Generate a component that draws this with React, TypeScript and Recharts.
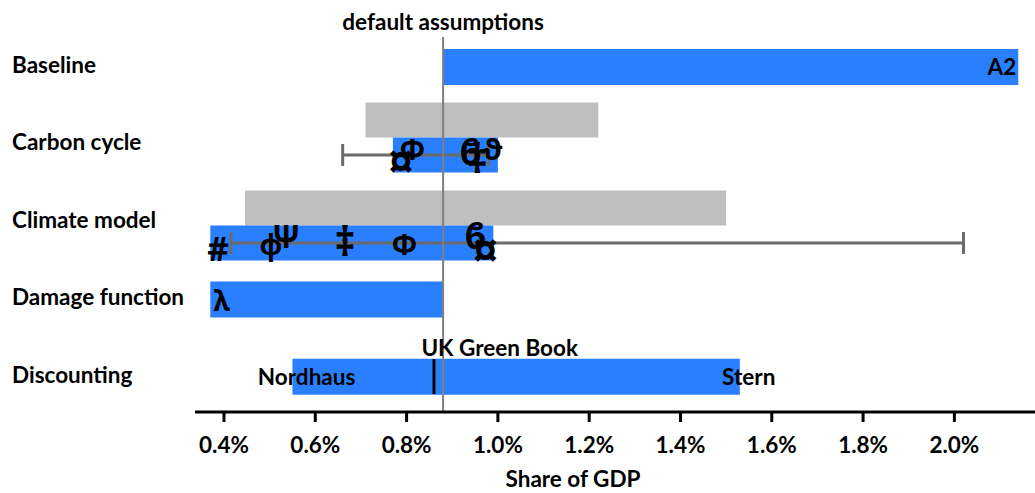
import React from 'react';
import {
    ComposedChart,
    Bar,
    XAxis,
    YAxis,
    ReferenceLine,
    ReferenceDot,
    ErrorBar,
    Label,
} from 'recharts';

// ─────────────────────────────────────────────────────────────────────────────
// Data (share of GDP, %)
// ─────────────────────────────────────────────────────────────────────────────

const categories = ['Baseline', 'Carbon cycle', 'Climate model', 'Damage function', 'Discounting'];

// grey range, upper bar of a row
const greyLow = [null, 0.71, 0.446, null, null];
const greyHigh = [null, 1.22, 1.5, null, null];
// blue range drawn under the grey one
const pairLow = [null, 0.77, 0.37, null, null];
const pairHigh = [null, 1.0, 0.99, null, null];
// blue range alone in its row
const soloLow = [0.88, null, null, 0.37, 0.55];
const soloHigh = [2.14, null, null, 0.88, 1.53];
// whiskers over the blue pair bars
const whiskerLow = [null, 0.66, 0.415, null, null];
const whiskerHigh = [null, 0.98, 2.02, null, null];

const xTicks = [0.4, 0.6, 0.8, 1.0, 1.2, 1.4, 1.6, 1.8, 2.0];
const xDomain = [0.3365, 2.1766];
const defaultAssumption = 0.88;
const greenBook = 0.86;

// scenario markers
const markerRows = [
    'Carbon cycle', 'Carbon cycle', 'Carbon cycle', 'Carbon cycle', 'Carbon cycle',
    'Climate model', 'Climate model', 'Climate model', 'Climate model', 'Climate model', 'Climate model', 'Climate model',
    'Damage function',
];
const markerValues = [0.788, 0.813, 0.939, 0.955, 0.989, 0.387, 0.503, 0.536, 0.665, 0.795, 0.95, 0.973, 0.395];
const markerSymbols = ['¤', 'Φ', 'ϐ', '‡', 'ϑ', '#', 'φ', 'Ψ', '‡', 'Φ', 'ϐ', '¤', 'λ'];

// text at bar ends
const endRows = ['Baseline', 'Discounting', 'Discounting'];
const endValues = [soloHigh[0], soloLow[4], soloHigh[4]];
const endTexts = ['A2', 'Nordhaus', 'Stern'];

// ─────────────────────────────────────────────────────────────────────────────
// Styling
// ─────────────────────────────────────────────────────────────────────────────

const W = 1035;
const H = 493;
const BAR = 35;
const BLUE = '#2a7fff';
const GREY = '#bfbfbf';
const FONT = "Lato, 'Noto Sans', sans-serif";
const GLYPH_FONT = "'Noto Sans', 'DejaVu Sans', sans-serif";
const GLYPH_SIZE = 28;
// rows with one bar and rows with a grey/blue pair sit on their own bands
const SOLO_PAD = { top: -9, bottom: -3.3 };
const PAIR_PAD = { top: -31.5, bottom: -33.5 };

// where each glyph's visual middle should sit, px from the bar middle
const markerShift = [8.5, -5.5, -2.5, 7, -5.5, 5.5, 7.5, -7, 2.5, 1.5, -6.5, 9.5, 1.5];
// glyph middle above the baseline (em) and relative size
const glyphMid: Record<string, number> = { '‡': 0.27, 'φ': 0.16, '¤': 0.33 };
const glyphScale: Record<string, number> = { '¤': 1.7, '‡': 1.45, '#': 1.2, 'ϐ': 1.25, 'Ψ': 1.15 };
const endAnchor = ['end', 'start', 'end'];
const endDx = [-2, -34.6, 35.5];

const textStyle = { fill: '#000', fontSize: 22.5, fontWeight: 700, fontFamily: FONT };

const hasGrey = (row: string) => greyLow[categories.indexOf(row)] != null;

const CategoryTick = ({ y, payload }: any) => (
    <text x={12} y={y + 6} {...textStyle}>{payload.value}</text>
);

export default function App() {
    const data = categories.map((name, i) => ({
        name,
        grey: greyLow[i] == null ? null : [greyLow[i], greyHigh[i]],
        pair: pairLow[i] == null ? null : [pairLow[i], pairHigh[i]],
        solo: soloLow[i] == null ? null : [soloLow[i], soloHigh[i]],
        err: whiskerLow[i] == null ? null : [
            (pairHigh[i] as number) - (whiskerLow[i] as number),
            (whiskerHigh[i] as number) - (pairHigh[i] as number),
        ],
    }));

    return (
        <div style={{ position: 'absolute', left: 0, top: 0, width: W, height: H, background: '#fff' }}>
            <ComposedChart
                width={W}
                height={H}
                data={data}
                layout="vertical"
                barGap={0}
                margin={{ top: 37, right: 0, bottom: 0, left: 0 }}
            >
                <XAxis
                    type="number"
                    domain={xDomain}
                    ticks={xTicks}
                    allowDataOverflow
                    height={81}
                    axisLine={{ stroke: '#000', strokeWidth: 3 }}
                    tickLine={{ stroke: '#000', strokeWidth: 3 }}
                    tickSize={10}
                    tickMargin={15}
                    tick={textStyle}
                    tickFormatter={(v: number) => `${v.toFixed(1)}%`}
                >
                    <Label value="Share of GDP" position="insideBottom" offset={6} dx={-42} style={textStyle} />
                </XAxis>
                <YAxis
                    yAxisId="solo"
                    type="category"
                    dataKey="name"
                    width={195}
                    axisLine={false}
                    tickLine={false}
                    tick={CategoryTick}
                    padding={SOLO_PAD}
                    allowDuplicatedCategory={false}
                />
                <YAxis
                    yAxisId="pair"
                    type="category"
                    dataKey="name"
                    hide
                    padding={PAIR_PAD}
                    allowDuplicatedCategory={false}
                />

                <Bar yAxisId="pair" dataKey="grey" fill={GREY} barSize={BAR} isAnimationActive={false} />
                <Bar yAxisId="pair" dataKey="pair" fill={BLUE} barSize={BAR} isAnimationActive={false}>
                    <ErrorBar dataKey="err" direction="x" width={11} stroke="#6b6b6b" strokeWidth={3} />
                </Bar>
                <Bar yAxisId="solo" dataKey="solo" fill={BLUE} barSize={BAR + 1} isAnimationActive={false} />

                <ReferenceLine
                    yAxisId="solo"
                    x={defaultAssumption}
                    stroke="#808080"
                    strokeWidth={2}
                    label={{ value: 'default assumptions', position: 'top', offset: 7, ...textStyle }}
                />

                <ReferenceDot
                    yAxisId="solo"
                    x={greenBook}
                    y="Discounting"
                    r={0}
                    ifOverflow="visible"
                    shape={(p: any) => (
                        <g>
                            <line x1={p.cx} x2={p.cx} y1={p.cy - BAR / 2} y2={p.cy + BAR / 2} stroke="#000" strokeWidth={3} />
                            <text x={p.cx - 12.6} y={p.cy - BAR / 2 - 3} {...textStyle}>UK Green Book</text>
                        </g>
                    )}
                />

                {endTexts.map((t, i) => (
                    <ReferenceDot
                        key={t}
                        yAxisId="solo"
                        x={endValues[i] as number}
                        y={endRows[i]}
                        r={0}
                        ifOverflow="visible"
                        shape={(p: any) => (
                            <text x={p.cx + endDx[i]} y={p.cy + 8} textAnchor={endAnchor[i] as any} {...textStyle}>{t}</text>
                        )}
                    />
                ))}

                {markerValues.map((v, i) => {
                    const sym = markerSymbols[i];
                    const paired = hasGrey(markerRows[i]);
                    const size = GLYPH_SIZE * (glyphScale[sym] ?? 1);
                    const mid = (glyphMid[sym] ?? 0.36) * size;
                    return (
                        <ReferenceDot
                            key={'m' + i}
                            yAxisId={paired ? 'pair' : 'solo'}
                            x={v}
                            y={markerRows[i]}
                            r={0}
                            ifOverflow="visible"
                            shape={(p: any) => (
                                <text
                                    x={p.cx}
                                    y={p.cy + (paired ? BAR / 2 : 0) + markerShift[i] + mid}
                                    textAnchor="middle"
                                    fill="#000"
                                    fontSize={size}
                                    fontWeight={700}
                                    fontFamily={GLYPH_FONT}
                                >
                                    {sym}
                                </text>
                            )}
                        />
                    );
                })}
            </ComposedChart>
        </div>
    );
}
